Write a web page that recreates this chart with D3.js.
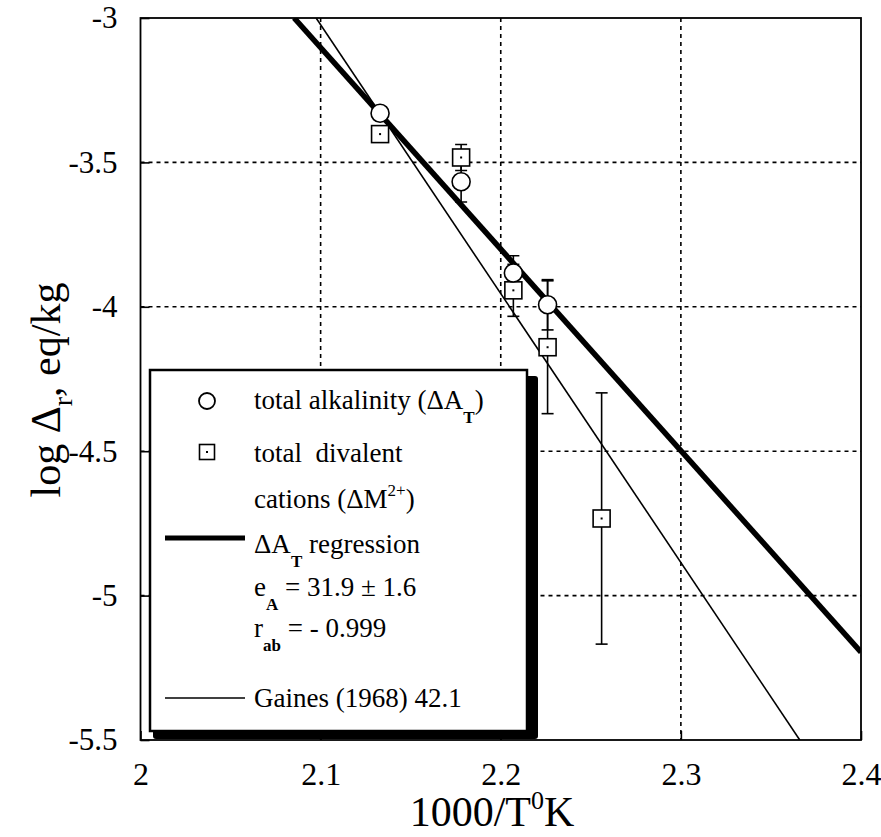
<!DOCTYPE html>
<html>
<head>
<meta charset="utf-8">
<script src="https://cdn.jsdelivr.net/npm/d3@7"></script>
<style>
  body { margin: 0; background: #fff; }
  text { font-family: "Liberation Serif", "Times New Roman", serif; fill: #000; }
</style>
</head>
<body>
<script>
// chart size and plot frame
const width = 881, height = 837;
const margin = { left: 140.5, right: 20, top: 18, bottom: 97 };
const serif = "'Liberation Serif', 'Times New Roman', serif";

// tick values
const xTicks = [2, 2.1, 2.2, 2.3, 2.4];
const yTicks = [-3, -3.5, -4, -4.5, -5, -5.5];

// total alkalinity (circles)
const alkX = [2.133, 2.178, 2.207, 2.226];
const alkY = [-3.33, -3.567, -3.883, -3.993];
const alkErr = [0, 0.07, 0.06, 0.087];

// total divalent cations (squares)
const divX = [2.133, 2.178, 2.207, 2.226, 2.256];
const divY = [-3.402, -3.483, -3.943, -4.14, -4.733];
const divErr = [0, 0.045, 0.09, 0.23, 0.435];

// fitted lines (end points)
const regX = [2.0853, 2.4];
const regY = [-3, -5.196];
const gainesX = [2.0975, 2.366];
const gainesY = [-3, -5.5];

const svg = d3.select("body").append("svg")
    .attr("width", width)
    .attr("height", height);

const x = d3.scaleLinear().domain([2, 2.4]).range([margin.left, width - margin.right]);
const y = d3.scaleLinear().domain([-3, -5.5]).range([margin.top, height - margin.bottom]);

const x0 = x.range()[0], x1 = x.range()[1];
const y0 = y.range()[0], y1 = y.range()[1];

svg.append("clipPath").attr("id", "plot")
  .append("rect")
    .attr("x", x0).attr("y", y0)
    .attr("width", x1 - x0).attr("height", y1 - y0);

// dashed grid
const grid = svg.append("g")
    .attr("stroke", "#000")
    .attr("stroke-width", 1.6)
    .attr("stroke-dasharray", "4,4");
grid.selectAll(".gx")
  .data(xTicks.slice(1, -1))
  .enter().append("line")
    .attr("x1", d => x(d)).attr("x2", d => x(d))
    .attr("y1", y0).attr("y2", y1);
grid.selectAll(".gy")
  .data(yTicks.slice(1, -1))
  .enter().append("line")
    .attr("x1", x0).attr("x2", x1)
    .attr("y1", d => y(d)).attr("y2", d => y(d));

// regression lines
const plot = svg.append("g").attr("clip-path", "url(#plot)");
const line = d3.line().x(d => x(d[0])).y(d => y(d[1]));

plot.append("path")
    .attr("d", line(d3.zip(gainesX, gainesY)))
    .attr("fill", "none")
    .attr("stroke", "#000")
    .attr("stroke-width", 1.6);

plot.append("path")
    .attr("d", line(d3.zip(regX, regY)))
    .attr("fill", "none")
    .attr("stroke", "#000")
    .attr("stroke-width", 5.5);

// error bars
function errorBars(xs, ys, es) {
  const pts = d3.zip(xs, ys, es).filter(d => d[2] > 0);
  const g = plot.append("g").attr("stroke", "#000").attr("stroke-width", 1.6);
  pts.forEach(d => {
    const cx = x(d[0]);
    g.append("line")
        .attr("x1", cx).attr("x2", cx)
        .attr("y1", y(d[1] + d[2])).attr("y2", y(d[1] - d[2]));
    [d[1] + d[2], d[1] - d[2]].forEach(v => {
      g.append("line")
          .attr("x1", cx - 6).attr("x2", cx + 6)
          .attr("y1", y(v)).attr("y2", y(v));
    });
  });
}
errorBars(divX, divY, divErr);
errorBars(alkX, alkY, alkErr);

// markers
function square(g, cx, cy, s) {
  g.append("rect")
      .attr("x", cx - s / 2).attr("y", cy - s / 2)
      .attr("width", s).attr("height", s)
      .attr("fill", "#fff").attr("stroke", "#000").attr("stroke-width", 1.6);
  g.append("rect")
      .attr("x", cx - 1).attr("y", cy - 1)
      .attr("width", 2).attr("height", 2)
      .attr("fill", "#000");
}

const marks = svg.append("g");
d3.zip(divX, divY).forEach(d => square(marks, x(d[0]), y(d[1]), 17));
marks.selectAll("circle")
  .data(d3.zip(alkX, alkY))
  .enter().append("circle")
    .attr("cx", d => x(d[0]))
    .attr("cy", d => y(d[1]))
    .attr("r", 9)
    .attr("fill", "#fff")
    .attr("stroke", "#000")
    .attr("stroke-width", 1.6);

// axes with inward ticks
svg.append("g")
    .attr("transform", `translate(0,${y1})`)
    .call(d3.axisBottom(x).tickValues(xTicks).tickFormat(d => String(d))
      .tickSizeInner(-9).tickSizeOuter(0).tickPadding(22))
    .call(g => g.select(".domain").remove())
    .call(g => g.selectAll("line").attr("stroke-width", 1.6))
    .call(g => g.selectAll("text").style("font-size", "32px").style("font-family", serif));

svg.append("g")
    .attr("transform", `translate(${x0},0)`)
    .call(d3.axisLeft(y).tickValues(yTicks).tickFormat(d => String(d))
      .tickSizeInner(-9).tickSizeOuter(0).tickPadding(23))
    .call(g => g.select(".domain").remove())
    .call(g => g.selectAll("line").attr("stroke-width", 1.6))
    .call(g => g.selectAll("text").style("font-size", "31px").style("font-family", serif));

// legend box with shadow
const lg = svg.append("g");
const lb = { x: 150, y: 370, w: 377, h: 361 };
lg.append("rect")
    .attr("x", lb.x + 3).attr("y", lb.y + 6)
    .attr("width", lb.w + 8).attr("height", lb.h + 2)
    .attr("rx", 3)
    .attr("fill", "#000");
lg.append("rect")
    .attr("x", lb.x).attr("y", lb.y)
    .attr("width", lb.w).attr("height", lb.h)
    .attr("fill", "#fff").attr("stroke", "#000").attr("stroke-width", 2.5);

lg.append("circle")
    .attr("cx", 207).attr("cy", 401).attr("r", 8)
    .attr("fill", "#fff").attr("stroke", "#000").attr("stroke-width", 1.8);
square(lg, 207, 452, 15);
lg.append("line")
    .attr("x1", 165).attr("x2", 245).attr("y1", 538).attr("y2", 538)
    .attr("stroke", "#000").attr("stroke-width", 5);
lg.append("line")
    .attr("x1", 165).attr("x2", 245).attr("y1", 698).attr("y2", 698)
    .attr("stroke", "#000").attr("stroke-width", 1.6);

function richText(g, tx, ty, parts) {
  const t = g.append("text")
      .attr("x", tx).attr("y", ty)
      .style("font-family", serif)
      .style("font-size", "27px")
      .style("white-space", "pre");
  parts.forEach(p => {
    const s = t.append("tspan").text(p.t);
    if (p.sub) s.style("font-size", "17px").attr("font-weight", "bold").attr("dy", 14);
    if (p.sup) s.style("font-size", "17px").attr("dy", -12);
    if (p.back) s.attr("dy", p.back);
  });
  return t;
}

richText(lg, 254, 409, [{ t: "total alkalinity (ΔA" }, { t: "T", sub: true }, { t: ")", back: -14 }]);
richText(lg, 254, 462, [{ t: "total  divalent" }]);
richText(lg, 254, 508, [{ t: "cations (ΔM" }, { t: "2+", sup: true }, { t: ")", back: 12 }]);
richText(lg, 254, 553, [{ t: "ΔA" }, { t: "T", sub: true }, { t: " regression", back: -14 }]);
richText(lg, 254, 596, [{ t: "e" }, { t: "A", sub: true }, { t: " = 31.9 ± 1.6", back: -14 }]);
richText(lg, 254, 637, [{ t: "r" }, { t: "ab", sub: true }, { t: " = - 0.999", back: -14 }]);
richText(lg, 254, 707, [{ t: "Gaines (1968) 42.1" }]);

// frame
svg.append("rect")
    .attr("x", x0).attr("y", y0)
    .attr("width", x1 - x0).attr("height", y1 - y0)
    .attr("fill", "none")
    .attr("stroke", "#000")
    .attr("stroke-width", 1.8);

// axis titles
const xt = svg.append("text")
    .attr("x", 492).attr("y", 826)
    .attr("text-anchor", "middle")
    .style("font-family", serif)
    .style("font-size", "42px");
xt.append("tspan").text("1000/T");
xt.append("tspan").text("0").style("font-size", "26px").attr("dy", -17);
xt.append("tspan").text("K").attr("dy", 17);

const yt = svg.append("text")
    .attr("transform", `translate(60,390) rotate(-90)`)
    .attr("text-anchor", "middle")
    .style("font-family", serif)
    .style("font-size", "42px");
yt.append("tspan").text("log Δ");
yt.append("tspan").text("r").style("font-size", "28px").attr("dy", 12);
yt.append("tspan").text(", eq/kg").attr("dy", -12);
</script>
</body>
</html>
